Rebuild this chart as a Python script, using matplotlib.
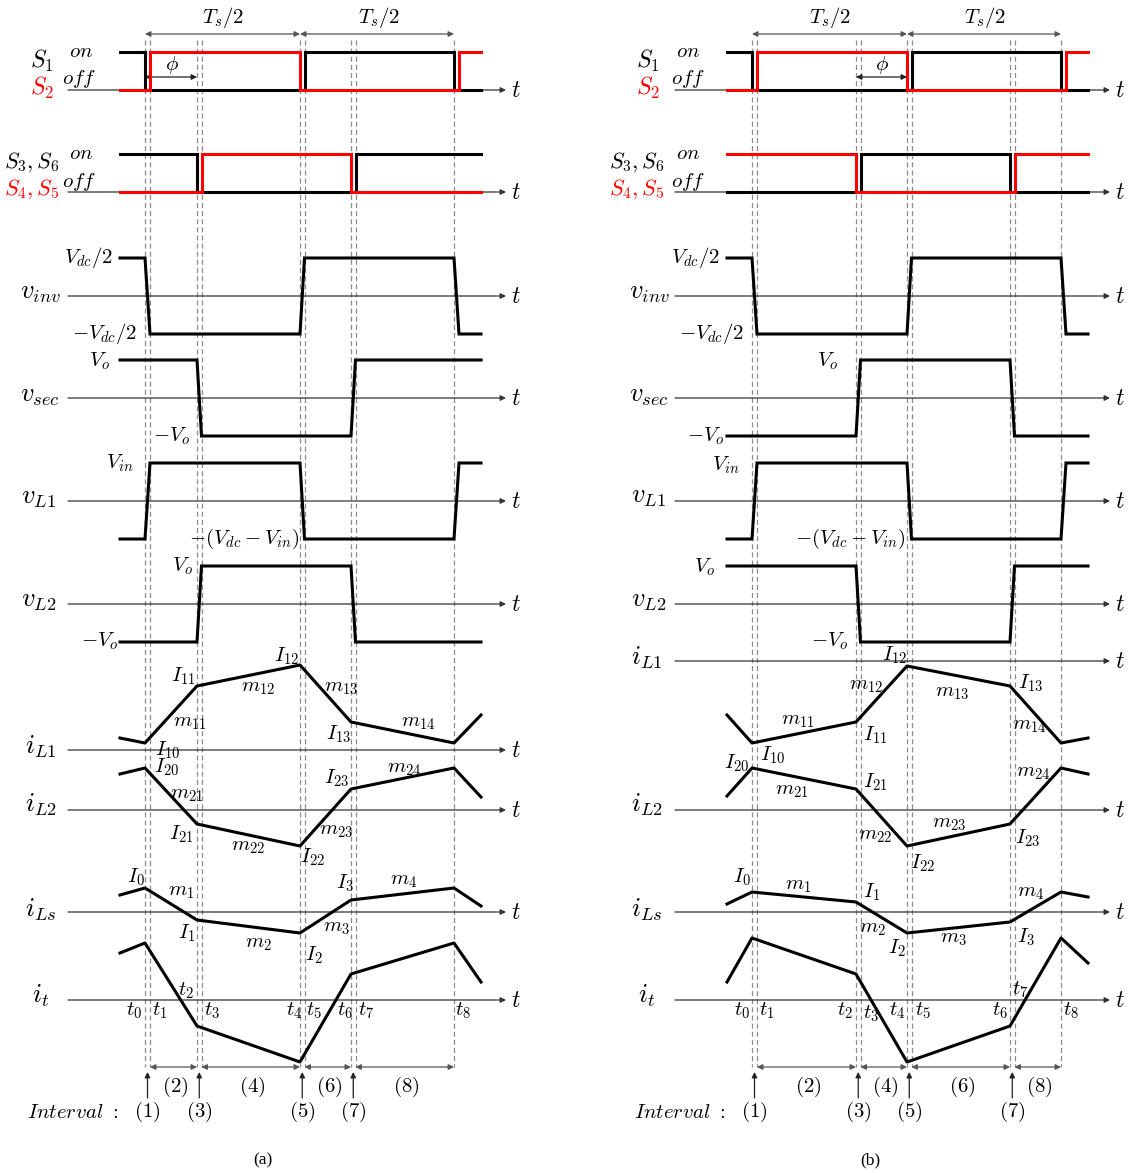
import matplotlib.pyplot as plt

plt.rcParams['mathtext.fontset'] = 'cm'

# switching instants t0..t9 (t9 = next t1) and the drawn span of each panel
T_A = [145, 150, 197, 201.5, 300, 304.5, 351, 355.5, 454, 459]
T_B = [752, 757, 856, 860.5, 907, 911.5, 1010, 1014.5, 1061, 1066]
SPAN_A = (120, 481)
SPAN_B = (727, 1088)

# gate signals: level before first edge (1 = on, 0 = off) and edge indices
S1_A, S2_A = (1, [0, 5, 8]), (0, [1, 4, 9])
S36_A, S45_A = (1, [2, 7]), (0, [3, 6])
S1_B, S2_B = (1, [0, 5, 8]), (0, [1, 4, 9])
S36_B, S45_B = (0, [3, 6]), (1, [2, 7])

# square voltages: initial sign and ramps (from index, to index)
VINV_A = (1, [(0, 1), (4, 5), (8, 9)])
VSEC_A = (1, [(2, 3), (6, 7)])
VL1_A = (-1, [(0, 1), (4, 5), (8, 9)])
VL2_A = (-1, [(2, 3), (6, 7)])
VINV_B = (1, [(0, 1), (4, 5), (8, 9)])
VSEC_B = (-1, [(2, 3), (6, 7)])
VL1_B = (-1, [(0, 1), (4, 5), (8, 9)])
VL2_B = (1, [(2, 3), (6, 7)])

# currents at [start, t0, t2, t4, t6, t8, end]
IL1_A = [12, 7, 64, 85, 28, 7, 35]
IL2_A = [36, 42, -14, -36, 21, 42, 13]
ILS_A = [17, 24, -8, -21, 12, 24, 6]
IT_A = [47, 57, -26, -62, 26, 57, 18]
IL1_B = [-54, -82, -61, -5, -25, -82, -77]
IL2_B = [14, 42, 21, -36, -14, 42, 36]
ILS_B = [8, 20, 10, -21, -10, 20, 15]
IT_B = [18, 62, 26, -62, -26, 62, 37]

AMP = 38
LW = 2.2
FS = 15
RED = '#ff0000'

fig = plt.figure(figsize=(11.3, 11.73), dpi=100)
ax = fig.add_axes([0, 0, 1, 1])
ax.set_xlim(0, 1130)
ax.set_ylim(1173, 0)
ax.axis('off')


def txt(s, x, y, c='black', fs=FS, **kw):
    ax.text(x, y, s, ha='center', va='center', fontsize=fs, color=c, **kw)


def arrow(x0, y0, x1, y1, style='-|>', color='#333333', lw=0.9):
    ax.annotate('', xy=(x1, y1), xytext=(x0, y0),
                arrowprops=dict(arrowstyle=style, color=color, lw=lw,
                                mutation_scale=8, shrinkA=0, shrinkB=0))


def gate(T, span, base, sig, color):
    lvl, edges = sig
    xs, ys = [span[0]], [base - AMP * lvl]
    for i in edges:
        xs += [T[i], T[i]]
        ys += [base - AMP * lvl, base - AMP * (1 - lvl)]
        lvl = 1 - lvl
    xs.append(span[1])
    ys.append(base - AMP * lvl)
    ax.plot(xs, ys, color=color, lw=LW, solid_joinstyle='miter', zorder=4)


def square(T, span, base, sig):
    lvl, ramps = sig
    xs, ys = [span[0]], [base - AMP * lvl]
    for i, j in ramps:
        xs += [T[i], T[j]]
        ys += [base - AMP * lvl, base + AMP * lvl]
        lvl = -lvl
    xs.append(span[1])
    ys.append(base - AMP * lvl)
    ax.plot(xs, ys, color='black', lw=LW, solid_joinstyle='miter', zorder=4)


def current(T, span, base, vals):
    xs = [span[0], T[0], T[2], T[4], T[6], T[8], span[1]]
    ax.plot(xs, [base - v for v in vals], color='black', lw=LW, zorder=4)


def panel(T, span, ax_x, rows, sigs, labels, names, tag):
    # dashed time markers
    for x in T[:9]:
        ax.plot([x, x], [40, 1067], color='#8c8c8c', lw=0.9,
                dashes=(4, 2.5), zorder=1)
    # time axes
    for y in rows.values():
        arrow(ax_x[0], y, ax_x[1], y)
        txt('$t$', ax_x[1] + 10, y, fs=17)
    # half-period arrows
    arrow(T[0], 34, T[4], 34, '<|-|>', '#555555')
    arrow(T[4], 34, T[8], 34, '<|-|>', '#555555')
    gate(T, span, rows['s12'], sigs['s1'], 'black')
    gate(T, span, rows['s12'], sigs['s2'], RED)
    gate(T, span, rows['s36'], sigs['s36'], 'black')
    gate(T, span, rows['s36'], sigs['s45'], RED)
    for k in ('vinv', 'vsec', 'vL1', 'vL2'):
        square(T, span, rows[k], sigs[k])
    for k in ('iL1', 'iL2', 'iLs', 'it'):
        current(T, span, rows[k], sigs[k])
    # interval arrows
    for a, b in [(1, 2), (3, 4), (5, 6), (7, 8)]:
        arrow(T[a], 1067, T[b], 1067, '<|-|>', '#555555')
        txt('$(%d)$' % b, (T[a] + T[b]) / 2 + 2, 1087)
    for n, a in zip((1, 3, 5, 7), (0, 2, 4, 6)):
        xm = (T[a] + T[a + 1]) / 2
        arrow(xm, 1098, xm, 1072, '-|>', '#222222')
        txt('$(%d)$' % n, xm, 1112)
    for s, x, y, c in labels:
        txt(s, x, y, c)
    for s, x, y, c, f in names:
        txt(s, x, y, c, fs=f)
    ax.text(tag[1], 1160, tag[0], ha='center', va='center',
            fontsize=12.5, family='Liberation Serif')


K = 'black'
names_a = [
    (r'$S_1$', 42, 61, K, 17), (r'$S_2$', 42, 88, RED, 17),
    (r'$S_3, S_6$', 32, 162, K, 16), (r'$S_4, S_5$', 32, 189, RED, 16),
    (r'$v_{inv}$', 40, 292, K, 19), (r'$v_{sec}$', 40, 395, K, 19),
    (r'$v_{L1}$', 39, 497, K, 19), (r'$v_{L2}$', 39, 600, K, 19),
    (r'$i_{L1}$', 41, 747, K, 19), (r'$i_{L2}$', 41, 805, K, 19),
    (r'$i_{Ls}$', 41, 910, K, 19), (r'$i_t$', 41, 996, K, 19),
]
names_b = [
    (r'$S_1$', 648, 61, K, 17), (r'$S_2$', 648, 88, RED, 17),
    (r'$S_3, S_6$', 637, 162, K, 16), (r'$S_4, S_5$', 637, 189, RED, 16),
    (r'$v_{inv}$', 649, 292, K, 19), (r'$v_{sec}$', 649, 395, K, 19),
    (r'$v_{L1}$', 649, 496, K, 19), (r'$v_{L2}$', 649, 600, K, 19),
    (r'$i_{L1}$', 647, 658, K, 19), (r'$i_{L2}$', 647, 805, K, 19),
    (r'$i_{Ls}$', 647, 910, K, 19), (r'$i_t$', 647, 996, K, 19),
]
labels_a = [
    (r'$on$', 81, 51, K), (r'$off$', 79, 79, K),
    (r'$on$', 81, 153, K), (r'$off$', 79, 182, K),
    (r'$T_s/2$', 223, 17, K), (r'$T_s/2$', 379, 17, K), (r'$\phi$', 172, 65, K),
    (r'$V_{dc}/2$', 89, 257, K), (r'$-V_{dc}/2$', 105, 334, K),
    (r'$V_o$', 100, 361, K), (r'$-V_o$', 172, 436, K),
    (r'$V_{in}$', 120, 463, K), (r'$-(V_{dc}-V_{in})$', 244, 539, K),
    (r'$V_o$', 183, 566, K), (r'$-V_o$', 100, 641, K),
    (r'$I_{11}$', 183, 676, K), (r'$m_{12}$', 258, 687, K),
    (r'$I_{12}$', 287, 656, K), (r'$m_{13}$', 341, 687, K), (r'$m_{11}$', 190, 722, K),
    (r'$I_{13}$', 339, 734, K), (r'$m_{14}$', 418, 722, K), (r'$I_{10}$', 168, 750, K),
    (r'$I_{20}$', 167, 767, K), (r'$m_{21}$', 187, 794, K),
    (r'$I_{23}$', 337, 778, K), (r'$m_{24}$', 404, 768, K), (r'$I_{21}$', 181, 834, K),
    (r'$m_{22}$', 248, 846, K), (r'$m_{23}$', 336, 830, K), (r'$I_{22}$', 313, 857, K),
    (r'$I_0$', 136, 877, K), (r'$m_1$', 181, 891, K),
    (r'$I_3$', 345, 883, K), (r'$m_4$', 404, 880, K), (r'$I_1$', 187, 933, K),
    (r'$m_2$', 258, 943, K), (r'$m_3$', 336, 927, K), (r'$I_2$', 314, 955, K),
    (r'$t_0$', 134, 1011, K), (r'$t_1$', 160, 1011, K), (r'$t_2$', 186, 991, K),
    (r'$t_3$', 212, 1011, K), (r'$t_4$', 294, 1011, K), (r'$t_5$', 314, 1011, K),
    (r'$t_6$', 345, 1011, K), (r'$t_7$', 366, 1011, K), (r'$t_8$', 463, 1011, K),
    (r'$Interval\ :$', 73, 1112, K),
]
labels_b = [
    (r'$on$', 688, 51, K), (r'$off$', 688, 79, K),
    (r'$on$', 688, 153, K), (r'$off$', 688, 182, K),
    (r'$T_s/2$', 830, 17, K), (r'$T_s/2$', 985, 17, K), (r'$\phi$', 882, 65, K),
    (r'$V_{dc}/2$', 696, 257, K), (r'$-V_{dc}/2$', 712, 334, K),
    (r'$V_o$', 828, 361, K), (r'$-V_o$', 706, 436, K),
    (r'$V_{in}$', 726, 465, K), (r'$-(V_{dc}-V_{in})$', 850, 539, K),
    (r'$V_o$', 705, 567, K), (r'$-V_o$', 830, 641, K),
    (r'$I_{12}$', 895, 655, K), (r'$m_{12}$', 866, 685, K),
    (r'$m_{13}$', 952, 692, K), (r'$I_{13}$', 1031, 683, K), (r'$m_{11}$', 798, 720, K),
    (r'$I_{11}$', 875, 735, K), (r'$m_{14}$', 1029, 725, K), (r'$I_{10}$', 773, 755, K),
    (r'$I_{20}$', 737, 763, K), (r'$m_{21}$', 792, 790, K),
    (r'$I_{21}$', 875, 782, K), (r'$m_{24}$', 1033, 772, K), (r'$m_{22}$', 875, 835, K),
    (r'$m_{23}$', 949, 823, K), (r'$I_{23}$', 1028, 838, K), (r'$I_{22}$', 923, 863, K),
    (r'$I_0$', 742, 877, K), (r'$m_1$', 798, 885, K),
    (r'$I_1$', 872, 892, K), (r'$m_4$', 1031, 892, K), (r'$m_2$', 872, 928, K),
    (r'$I_2$', 897, 948, K), (r'$m_3$', 953, 938, K), (r'$I_3$', 1026, 937, K),
    (r'$t_0$', 742, 1011, K), (r'$t_1$', 767, 1011, K), (r'$t_2$', 845, 1011, K),
    (r'$t_3$', 871, 1014, K), (r'$t_4$', 897, 1011, K), (r'$t_5$', 923, 1011, K),
    (r'$t_6$', 1000, 1011, K), (r'$t_7$', 1020, 990, K), (r'$t_8$', 1071, 1011, K),
    (r'$Interval\ :$', 680, 1112, K),
]

rows_a = dict(s12=90, s36=192, vinv=296, vsec=398, vL1=501, vL2=604,
              iL1=750, iL2=810, iLs=912, it=1000)
rows_b = dict(rows_a, iL1=661)

sigs_a = dict(s1=S1_A, s2=S2_A, s36=S36_A, s45=S45_A, vinv=VINV_A, vsec=VSEC_A,
              vL1=VL1_A, vL2=VL2_A, iL1=IL1_A, iL2=IL2_A, iLs=ILS_A, it=IT_A)
sigs_b = dict(s1=S1_B, s2=S2_B, s36=S36_B, s45=S45_B, vinv=VINV_B, vsec=VSEC_B,
              vL1=VL1_B, vL2=VL2_B, iL1=IL1_B, iL2=IL2_B, iLs=ILS_B, it=IT_B)

panel(T_A, SPAN_A, (68, 506), rows_a, sigs_a, labels_a, names_a, ('(a)', 263))
panel(T_B, SPAN_B, (675, 1110), rows_b, sigs_b, labels_b, names_b, ('(b)', 870))

# phase-shift arrows
arrow(T_A[0], 77, T_A[2], 77, '<|-|>', '#222222')
arrow(T_B[2], 77, T_B[4], 77, '<|-|>', '#222222')

fig.savefig('out.png', dpi=100)
